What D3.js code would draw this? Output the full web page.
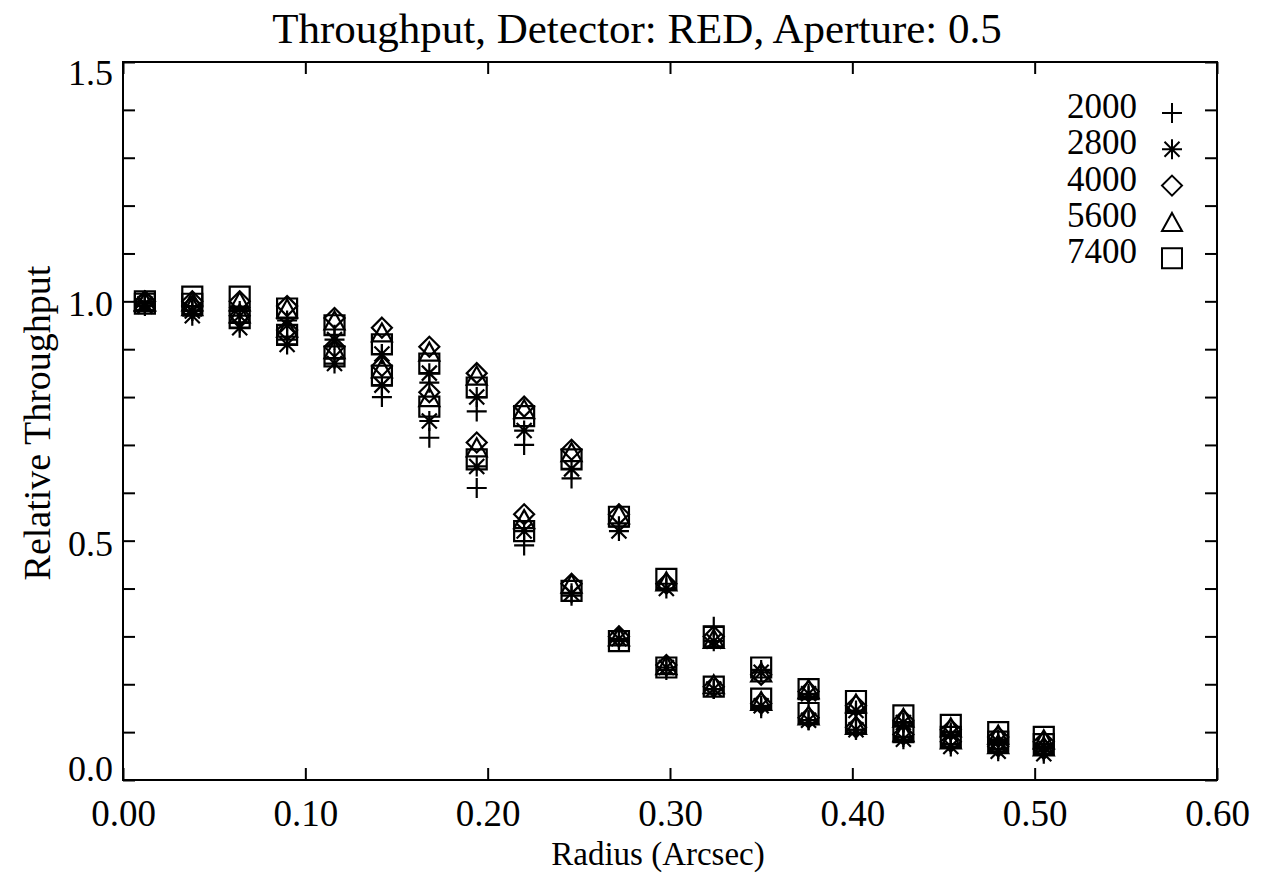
<!DOCTYPE html>
<html>
<head>
<meta charset="utf-8">
<script src="https://cdn.jsdelivr.net/npm/d3@7"></script>
<style>
  body { margin: 0; background: #fff; }
  svg { display: block; }
  text { font-family: "Liberation Serif", "Times New Roman", serif; fill: #000; }
</style>
</head>
<body>
<svg id="chart" width="1267" height="879"></svg>
<script>
// Radial sample positions (arcsec)
const radius = [0.012, 0.038, 0.064, 0.090, 0.116, 0.142, 0.168, 0.194, 0.220, 0.246,
                0.272, 0.298, 0.324, 0.350, 0.376, 0.402, 0.428, 0.454, 0.480, 0.505];

// Wavelength labels and their marker shapes
const wavelengths = ["2000", "2800", "4000", "5600", "7400"];
const markerTypes = ["plus", "asterisk", "diamond", "triangle", "square"];

// Upper set of throughput measurements, one array per wavelength
const upper2000 = [1.000, 0.990, 0.980, 0.960, 0.930, 0.890, 0.830, 0.770, 0.700, 0.630,
                   0.530, 0.410, 0.320, 0.230, 0.175, 0.140, 0.120, 0.100, 0.085, 0.075];
const upper2800 = [0.995, 0.980, 0.970, 0.950, 0.920, 0.890, 0.850, 0.800, 0.730, 0.650,
                   0.520, 0.400, 0.290, 0.225, 0.180, 0.145, 0.120, 0.095, 0.080, 0.070];
const upper4000 = [1.000, 1.000, 1.000, 0.990, 0.965, 0.945, 0.905, 0.850, 0.780, 0.690,
                   0.555, 0.410, 0.300, 0.220, 0.185, 0.155, 0.125, 0.105, 0.090, 0.080];
const upper5600 = [1.000, 1.000, 1.000, 0.985, 0.960, 0.935, 0.895, 0.845, 0.775, 0.685,
                   0.555, 0.415, 0.295, 0.225, 0.190, 0.160, 0.130, 0.110, 0.095, 0.085];
const upper7400 = [1.000, 1.010, 1.010, 0.985, 0.950, 0.910, 0.870, 0.820, 0.760, 0.670,
                   0.550, 0.420, 0.300, 0.235, 0.190, 0.165, 0.135, 0.115, 0.100, 0.090];

// Lower set of throughput measurements, one array per wavelength
const lower2000 = [0.995, 0.980, 0.955, 0.920, 0.880, 0.800, 0.715, 0.610, 0.490, 0.385,
                   0.290, 0.230, 0.190, 0.150, 0.125, 0.105, 0.090, 0.075, 0.065, 0.060];
const lower2800 = [0.990, 0.970, 0.945, 0.910, 0.870, 0.825, 0.750, 0.655, 0.520, 0.390,
                   0.295, 0.235, 0.190, 0.155, 0.125, 0.105, 0.085, 0.070, 0.060, 0.055];
const lower4000 = [1.000, 0.990, 0.970, 0.940, 0.905, 0.865, 0.810, 0.705, 0.555, 0.410,
                   0.300, 0.240, 0.195, 0.160, 0.130, 0.110, 0.095, 0.080, 0.070, 0.065];
const lower5600 = [1.000, 0.990, 0.975, 0.945, 0.900, 0.860, 0.800, 0.695, 0.545, 0.410,
                   0.300, 0.240, 0.200, 0.165, 0.135, 0.115, 0.100, 0.085, 0.075, 0.070];
const lower7400 = [0.995, 0.995, 0.965, 0.930, 0.885, 0.845, 0.780, 0.670, 0.520, 0.395,
                   0.290, 0.235, 0.195, 0.170, 0.140, 0.120, 0.100, 0.090, 0.080, 0.075];

// Axis ticks
const xTickValues = [0.0, 0.1, 0.2, 0.3, 0.4, 0.5, 0.6];
const yTickValues = [0.0, 0.1, 0.2, 0.3, 0.4, 0.5, 0.6, 0.7, 0.8, 0.9, 1.0, 1.1, 1.2, 1.3, 1.4, 1.5];
const yLabelValues = [0.0, 0.5, 1.0, 1.5];

const upperSets = [upper2000, upper2800, upper4000, upper5600, upper7400];
const lowerSets = [lower2000, lower2800, lower4000, lower5600, lower7400];

const margin = { left: 123, right: 50, top: 62, bottom: 99 };
const width = 1267, height = 879;

const svg = d3.select("#chart");
const x = d3.scaleLinear().domain([0, 0.6]).range([margin.left, width - margin.right]);
const y = d3.scaleLinear().domain([0, 1.5]).range([height - margin.bottom, margin.top]);

// Marker outlines, drawn as stroked paths of half-size s
function markerPath(type, s) {
  const p = d3.path();
  if (type === "plus") {
    p.moveTo(-s, 0); p.lineTo(s, 0);
    p.moveTo(0, -s); p.lineTo(0, s);
  } else if (type === "asterisk") {
    const d = s * 0.75;
    p.moveTo(-s, 0); p.lineTo(s, 0);
    p.moveTo(0, -s); p.lineTo(0, s);
    p.moveTo(-d, -d); p.lineTo(d, d);
    p.moveTo(-d, d); p.lineTo(d, -d);
  } else if (type === "diamond") {
    p.moveTo(0, -s); p.lineTo(s, 0); p.lineTo(0, s); p.lineTo(-s, 0); p.closePath();
  } else if (type === "triangle") {
    const h = s * 0.9;
    p.moveTo(0, -h); p.lineTo(s, h); p.lineTo(-s, h); p.closePath();
  } else {
    p.rect(-s, -s, 2 * s, 2 * s);
  }
  return p.toString();
}

// Frame
svg.append("rect")
  .attr("x", x(0)).attr("y", y(1.5))
  .attr("width", x(0.6) - x(0)).attr("height", y(0) - y(1.5))
  .attr("fill", "none").attr("stroke", "#000").attr("stroke-width", 2);

function styleAxis(g, size) {
  g.select(".domain").remove();
  g.selectAll(".tick line").attr("stroke", "#000").attr("stroke-width", 2);
  g.selectAll(".tick text").attr("font-size", size).attr("fill", "#000")
    .attr("font-family", "Liberation Serif, Times New Roman, serif");
}

// Bottom axis (labelled)
svg.append("g")
  .attr("transform", `translate(0,${y(0)})`)
  .call(d3.axisBottom(x).tickValues(xTickValues).tickSize(-12).tickPadding(20)
        .tickFormat(d3.format(".2f")))
  .call(styleAxis, 37);

// Top axis (ticks only)
svg.append("g")
  .attr("transform", `translate(0,${y(1.5)})`)
  .call(d3.axisTop(x).tickValues(xTickValues).tickSize(-12).tickFormat(""))
  .call(styleAxis, 37);

// Left axis (labels at every 0.5; end labels kept inside the axis span)
const isLabelled = d => yLabelValues.some(v => Math.abs(v - d) < 1e-9);
const leftAxis = svg.append("g")
  .attr("transform", `translate(${x(0)},0)`)
  .call(d3.axisLeft(y).tickValues(yTickValues).tickSize(-12).tickPadding(10)
        .tickFormat(d => isLabelled(d) ? d3.format(".1f")(d) : ""))
  .call(styleAxis, 36);
leftAxis.selectAll(".tick text")
  .attr("dy", d => Math.abs(d) < 1e-9 ? "0em" : (Math.abs(d - 1.5) < 1e-9 ? "0.62em" : "0.4em"));

// Right axis (ticks only)
svg.append("g")
  .attr("transform", `translate(${x(0.6)},0)`)
  .call(d3.axisRight(y).tickValues(yTickValues).tickSize(-12).tickFormat(""))
  .call(styleAxis, 36);

// Title and axis titles
svg.append("text")
  .attr("x", 637).attr("y", 43)
  .attr("text-anchor", "middle").attr("font-size", 43)
  .text("Throughput, Detector: RED, Aperture: 0.5");

svg.append("text")
  .attr("x", (x(0) + x(0.6)) / 2 - 12).attr("y", 865)
  .attr("text-anchor", "middle").attr("font-size", 33)
  .attr("transform", "translate(0,0)")
  .text("Radius (Arcsec)");

svg.append("text")
  .attr("transform", `translate(50,${(y(0) + y(1.5)) / 2 + 2}) rotate(-90)`)
  .attr("text-anchor", "middle").attr("font-size", 38)
  .text("Relative Throughput");

// Data points
const points = [];
wavelengths.forEach((w, i) => {
  [upperSets[i], lowerSets[i]].forEach(vals => {
    vals.forEach((v, j) => points.push({ r: radius[j], v, type: markerTypes[i] }));
  });
});

svg.append("g").selectAll("path")
  .data(points)
  .join("path")
  .attr("transform", d => `translate(${x(d.r)},${y(d.v)})`)
  .attr("d", d => markerPath(d.type, 10))
  .attr("fill", "none").attr("stroke", "#000").attr("stroke-width", 2.2);

// Legend
const legend = svg.append("g");
wavelengths.forEach((w, i) => {
  const cy = 113 + i * 36.3;
  legend.append("text")
    .attr("x", 1137).attr("y", cy + 5)
    .attr("text-anchor", "end").attr("font-size", 35)
    .text(w);
  legend.append("path")
    .attr("transform", `translate(1172,${cy})`)
    .attr("d", markerPath(markerTypes[i], 10))
    .attr("fill", "none").attr("stroke", "#000").attr("stroke-width", 2);
});
</script>
</body>
</html>
